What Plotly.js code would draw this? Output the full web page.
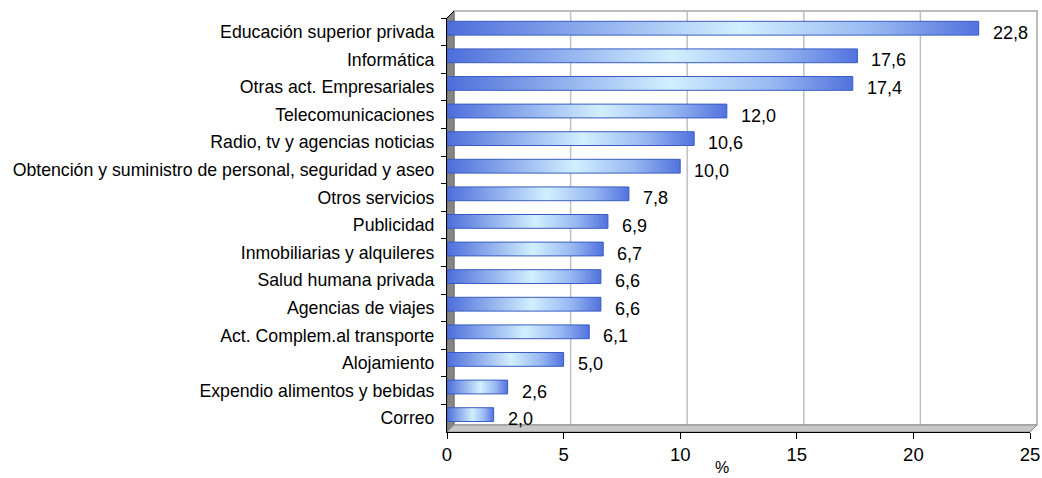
<!DOCTYPE html>
<html>
<head>
<meta charset="utf-8">
<script src="https://cdn.plot.ly/plotly-3.0.1.min.js"></script>
<style>
  html, body { margin: 0; padding: 0; background: #ffffff; }
  #chart { width: 1042px; height: 478px; }
</style>
</head>
<body>
<div id="chart"></div>
<script>
// ---- data ----
const categories = [
  "Educación superior privada",
  "Informática",
  "Otras act. Empresariales",
  "Telecomunicaciones",
  "Radio, tv y agencias noticias",
  "Obtención y suministro de personal, seguridad y aseo",
  "Otros servicios",
  "Publicidad",
  "Inmobiliarias y alquileres",
  "Salud humana privada",
  "Agencias de viajes",
  "Act. Complem.al transporte",
  "Alojamiento",
  "Expendio alimentos y bebidas",
  "Correo"
];
const values = [22.8, 17.6, 17.4, 12.0, 10.6, 10.0, 7.8, 6.9, 6.7, 6.6, 6.6, 6.1, 5.0, 2.6, 2.0];
const xTicks = [0, 5, 10, 15, 20, 25];
const xTitle = "%";

// ---- layout geometry (pixels) ----
const L = 447, R = 1030, T = 18, B = 432, D = 7;
const W = R - L, H = B - T;
const px = x => (x - L) / W;
const py = y => (B - y) / H;
const FONT = '"Liberation Sans", Arial, sans-serif';

const shapes = [];
// back wall
shapes.push({type: 'path', xref: 'paper', yref: 'paper', layer: 'below',
  path: `M ${px(L+D)} ${py(B-D)} L ${px(L+D)} ${py(T-D)} L ${px(R+D)} ${py(T-D)} L ${px(R+D)} ${py(B-D)} Z`,
  fillcolor: '#ffffff', line: {color: '#a6a6a6', width: 1.5}});
// gridlines on back wall
xTicks.forEach(v => {
  if (v === 0 || v === xTicks[xTicks.length-1]) return;
  shapes.push({type: 'line', xref: 'x', yref: 'paper', layer: 'below',
    xsizemode: 'pixel', xanchor: v, x0: D, x1: D, y0: py(B-D), y1: py(T-D),
    line: {color: '#c0c0c0', width: 1.5}});
});
// left wall
shapes.push({type: 'path', xref: 'paper', yref: 'paper', layer: 'below',
  path: `M ${px(L)} ${py(B)} L ${px(L)} ${py(T)} L ${px(L+D)} ${py(T-D)} L ${px(L+D)} ${py(B-D)} Z`,
  fillcolor: '#858585', line: {color: '#6e6e6e', width: 1}});
// floor
shapes.push({type: 'path', xref: 'paper', yref: 'paper', layer: 'below',
  path: `M ${px(L)} ${py(B)} L ${px(R)} ${py(B)} L ${px(R+D)} ${py(B-D)} L ${px(L+D)} ${py(B-D)} Z`,
  fillcolor: '#c8c8c8', line: {color: '#8c8c8c', width: 1}});
// top edge of left wall
shapes.push({type: 'line', xref: 'paper', yref: 'paper', layer: 'above',
  x0: px(L), y0: py(T), x1: px(L+D), y1: py(T-D), line: {color: '#000000', width: 1}});

const annotations = values.map((v, i) => ({
  x: v, y: categories[i], xref: 'x', yref: 'y',
  text: v.toFixed(1).replace('.', ','), showarrow: false,
  xanchor: 'left', yanchor: 'middle', xshift: 12, yshift: -1,
  font: {family: FONT, size: 18, color: '#000000'}
}));
annotations.push({
  x: px(722), y: py(467), xref: 'paper', yref: 'paper', text: xTitle,
  showarrow: false, xanchor: 'center', yanchor: 'middle',
  font: {family: FONT, size: 16, color: '#000000'}
});

const trace = {
  type: 'bar', orientation: 'h', x: values, y: categories,
  width: 0.5, offset: -0.38,
  marker: {color: '#8fb0ee', line: {color: '#3a5cc4', width: 1}},
  hoverinfo: 'skip'
};

const layout = {
  width: 1042, height: 478,
  margin: {l: L, r: 1042 - R, t: T, b: 478 - B, pad: 0},
  paper_bgcolor: '#ffffff', plot_bgcolor: 'rgba(0,0,0,0)',
  showlegend: false,
  font: {family: FONT, size: 18, color: '#000000'},
  xaxis: {range: [0, 25], tickvals: xTicks, showgrid: false, zeroline: false,
    showline: true, linecolor: '#000000', linewidth: 1,
    ticks: 'outside', ticklen: 6, tickcolor: '#000000',
    tickfont: {family: FONT, size: 18.5, color: '#000000'}, fixedrange: true},
  yaxis: {type: 'category', categoryorder: 'array', categoryarray: categories,
    range: [categories.length - 0.5, -0.5], autorange: false,
    showgrid: false, zeroline: false, showline: true, linecolor: '#000000', linewidth: 1,
    ticks: 'outside', tickson: 'boundaries', ticklen: 5, tickcolor: '#000000',
    ticklabelstandoff: 8,
    tickfont: {family: FONT, size: 17.7, color: '#000000'}, fixedrange: true},
  shapes: shapes,
  annotations: annotations
};

Plotly.newPlot('chart', [trace], layout, {displayModeBar: false, staticPlot: true}).then(gd => {
  const svg = gd.querySelector('svg.main-svg');
  const ns = 'http://www.w3.org/2000/svg';
  let defs = svg.querySelector('defs');
  if (!defs) { defs = document.createElementNS(ns, 'defs'); svg.insertBefore(defs, svg.firstChild); }
  const g = document.createElementNS(ns, 'linearGradient');
  g.setAttribute('id', 'barGrad');
  g.setAttribute('x1', '0'); g.setAttribute('y1', '0');
  g.setAttribute('x2', '1'); g.setAttribute('y2', '0');
  [['0', '#4d6edb'], ['0.55', '#d2efff'], ['0.8', '#98b8f2'], ['1', '#5272de']].forEach(([o, c]) => {
    const s = document.createElementNS(ns, 'stop');
    s.setAttribute('offset', o); s.setAttribute('stop-color', c);
    g.appendChild(s);
  });
  defs.appendChild(g);
  gd.querySelectorAll('.barlayer .point path').forEach(p => {
    p.style.fill = 'url(#barGrad)';
  });
});
</script>
</body>
</html>
